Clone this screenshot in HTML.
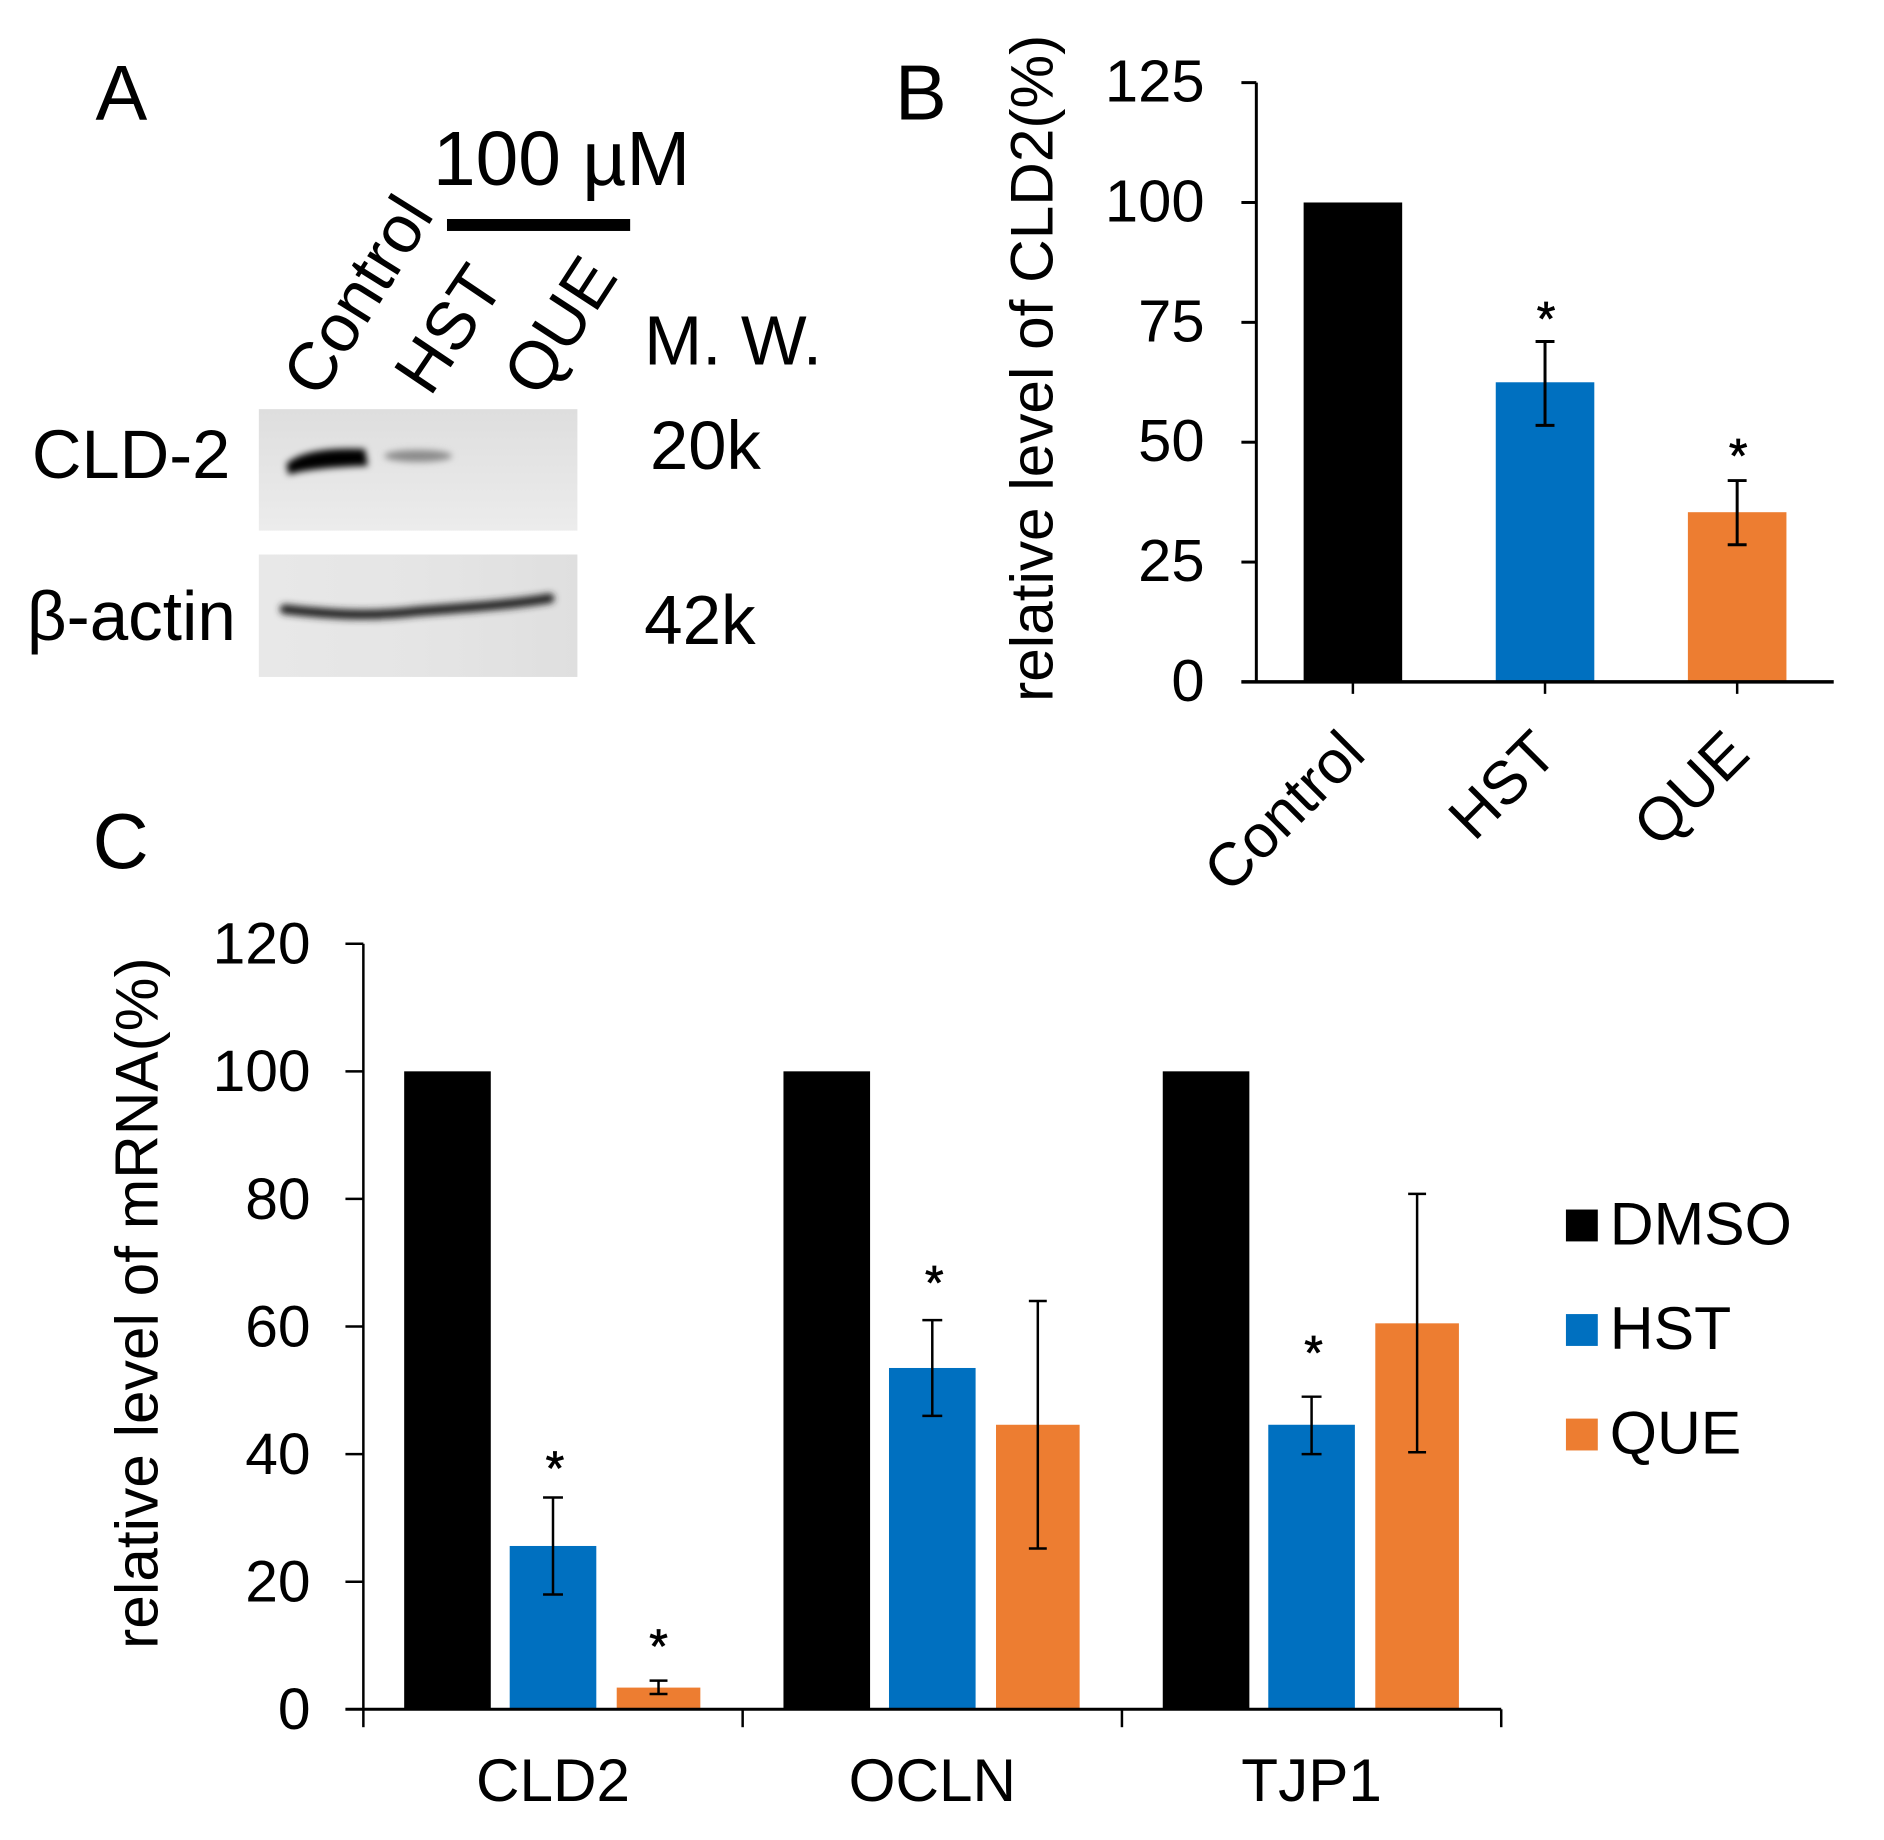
<!DOCTYPE html>
<html><head><meta charset="utf-8"><title>CLD2 figure</title>
<style>
html,body{margin:0;padding:0;background:#fff}
svg{display:block}
text{font-family:"Liberation Sans",Arial,sans-serif;fill:#000}
</style></head>
<body>
<svg id="fig" xmlns="http://www.w3.org/2000/svg" width="1884" height="1840" viewBox="0 0 1892.5 1848.3">
<defs>
<filter id="b3" x="-30%" y="-100%" width="160%" height="300%"><feGaussianBlur stdDeviation="3.5"/></filter>
<linearGradient id="blot1" x1="0" y1="0" x2="0" y2="1"><stop offset="0" stop-color="#dedede"/><stop offset="1" stop-color="#ececec"/></linearGradient>
<linearGradient id="blot2" x1="0" y1="0" x2="1" y2="0"><stop offset="0" stop-color="#e8e8e8"/><stop offset="0.5" stop-color="#e5e5e5"/><stop offset="1" stop-color="#dfdfdf"/></linearGradient>
</defs>
<rect width="1892.5" height="1848.3" fill="#fff"/>

<g>
<text x="96" y="120" font-size="78">A</text>
<text x="435" y="186" font-size="77">100 µM</text>
<rect x="449" y="220" width="184" height="12" fill="#000"/>
<text font-size="68" text-anchor="end" transform="translate(437,216) rotate(-58)">Control</text>
<text font-size="68" text-anchor="end" transform="translate(508,287) rotate(-56)">HST</text>
<text font-size="68" text-anchor="end" transform="translate(622,278) rotate(-57)">QUE</text>
<text x="647" y="366" font-size="70">M. W.</text>
<text x="32" y="480" font-size="69">CLD-2</text>
<text x="27" y="643" font-size="69.5">β-actin</text>
<text x="653" y="471" font-size="69">20k</text>
<text x="647" y="647" font-size="69.5">42k</text>
<g>
<rect x="260" y="411" width="320" height="122" fill="url(#blot1)"/>
<path d="M291 467 C305 456 330 453 364 454 L366 465 C340 466 310 468 292 473 Z" fill="#000" stroke="#000" stroke-width="6" filter="url(#b3)"/>
<ellipse cx="420" cy="458" rx="34" ry="6" fill="#8a8a8a" filter="url(#b3)"/>
</g>
<g>
<rect x="260" y="557" width="320" height="123" fill="url(#blot2)"/>
<path d="M286 612 C330 617 370 620 420 614 C470 610 510 608 552 601" fill="none" stroke="#262626" stroke-width="10" stroke-linecap="round" filter="url(#b3)"/>
</g>
</g>

<text x="899" y="120" font-size="78">B</text>
<g id="chartB"></g>

<text x="93" y="872" font-size="78">C</text>
<g id="chartC"></g>

<g>
<g><rect x="1573" y="1215" width="32" height="32" fill="#000"/><text x="1617" y="1250" font-size="61">DMSO</text></g>
<g><rect x="1573" y="1320" width="32" height="32" fill="#0070c0"/><text x="1617" y="1355" font-size="61">HST</text></g>
<g><rect x="1573" y="1425" width="32" height="32" fill="#ed7d31"/><text x="1617" y="1460" font-size="61">QUE</text></g>
</g>
</svg>
<script>
// Panel B data
var bCategories = ['Control', 'HST', 'QUE'];
var bValues = [100, 62.5, 35.4];
var bErrHigh = [null, 71, 42];
var bErrLow = [null, 53.5, 28.6];
var bStarLevel = [null, 76.6, 48];
var bTicks = [0, 25, 50, 75, 100, 125];

// Panel C data
var cCategories = ['CLD2', 'OCLN', 'TJP1'];
var cDmso = [100, 100, 100];
var cHst = [25.6, 53.5, 44.6];
var cQue = [3.4, 44.6, 60.5];
var cHstErrHigh = [33.2, 61, 49];
var cHstErrLow = [18, 46, 40];
var cQueErrHigh = [4.5, 64, 80.8];
var cQueErrLow = [2.4, 25.2, 40.3];
var cHstStar = [38.4, 67.5, 56.5];
var cQueStar = [10.5, null, null];
var cTicks = [0, 20, 40, 60, 80, 100, 120];

var NS = 'http://www.w3.org/2000/svg';
var BLACK = '#000', BLUE = '#0070c0', ORANGE = '#ed7d31';

function mk(parent, tag, attrs, txt) {
  var el = document.createElementNS(NS, tag);
  for (var k in attrs) el.setAttribute(k, attrs[k]);
  if (txt !== undefined) el.textContent = txt;
  parent.appendChild(el);
  return el;
}
function drawAxes(g, o) {
  var yAxis = mk(g, 'line', {x1: o.x0, x2: o.x0, y1: o.y(o.ticks[o.ticks.length - 1]), y2: o.y(0), stroke: '#000', 'stroke-width': o.sw});
  
  
  var xAxis = mk(g, 'line', {x1: o.x0 - o.tick, x2: o.x1, y1: o.y(0), y2: o.y(0), stroke: '#000', 'stroke-width': o.sw + 0.5});
  
  
  o.ticks.forEach(function (t) {
    var tk = mk(g, 'line', {x1: o.x0 - o.tick, x2: o.x0, y1: o.y(t), y2: o.y(t), stroke: '#000', 'stroke-width': o.sw});
    
    
    var lb = mk(g, 'text', {x: o.labelX, y: o.y(t) + o.dy, 'font-size': o.fs, 'text-anchor': 'end'}, String(t));
    
    
  });
}
function drawBar(g, name, cx, w, v, y, color) {
  var r = mk(g, 'rect', {x: cx - w / 2, y: y(v), width: w, height: y(0) - y(v), fill: color});
  
  
}
function drawErr(g, cx, hi, lo, y, cap, sw) {
  if (hi === null) return;
  var e = mk(g, 'g', {stroke: '#000', 'stroke-width': sw});
  
  
  mk(e, 'line', {x1: cx, x2: cx, y1: y(hi), y2: y(lo)});
  mk(e, 'line', {x1: cx - cap / 2, x2: cx + cap / 2, y1: y(hi), y2: y(hi)});
  mk(e, 'line', {x1: cx - cap / 2, x2: cx + cap / 2, y1: y(lo), y2: y(lo)});
}
function drawStar(g, cx, level, y) {
  if (level === null) return;
  var s = mk(g, 'text', {x: cx, y: y(level) + 21, 'font-size': 48, 'text-anchor': 'middle', stroke: '#000', 'stroke-width': 0.8}, '*');
  
  
}

/* ---------- Panel B ---------- */
(function () {
  var g = document.getElementById('chartB');
  var x0 = 1262, x1 = 1842, yTop = 83, yBase = 685, maxV = 125;
  var y = function (v) { return yBase - (v / maxV) * (yBase - yTop); };
  var step = 193;
  var cx = function (i) { return 1359 + i * step; };
  var colors = [BLACK, BLUE, ORANGE];
  bValues.forEach(function (v, i) {
    drawBar(g, 'bar-' + bCategories[i].toLowerCase(), cx(i), 99, v, y, colors[i]);
  });
  bValues.forEach(function (v, i) {
    drawErr(g, cx(i), bErrHigh[i], bErrLow[i], y, 19, 3);
    drawStar(g, cx(i) + 1, bStarLevel[i], y);
  });
  drawAxes(g, {x0: x0, x1: x1, y: y, ticks: bTicks, tick: 15, sw: 3, labelX: 1210, fs: 60, dy: 19});
  for (var i = 0; i <= bCategories.length; i++) {
    var t = mk(g, 'line', {x1: cx(i), x2: cx(i), y1: yBase, y2: yBase + 12, stroke: '#000', 'stroke-width': 2.5});
    
    
  }
  bCategories.forEach(function (c, i) {
    var lb = mk(g, 'text', {'font-size': 61, 'text-anchor': 'end', transform: 'translate(' + (cx(i) + 15) + ',' + (yBase + 75) + ') rotate(-45)'}, c);
    
    
  });
  var title = mk(g, 'text', {'font-size': 60.6, 'text-anchor': 'middle', transform: 'translate(1057,370) rotate(-90)'}, 'relative level of CLD2(%)');
  
  
})();

/* ---------- Panel C ---------- */
(function () {
  var g = document.getElementById('chartC');
  var x0 = 365, x1 = 1508, yTop = 948, yBase = 1717, maxV = 120;
  var y = function (v) { return yBase - (v / maxV) * (yBase - yTop); };
  var groupW = (x1 - x0) / cCategories.length;
  var gc = function (i) { return x0 + groupW * (i + 0.5); };
  var off = 106;
  cCategories.forEach(function (c, i) {
    var n = c.toLowerCase();
    drawBar(g, 'bar-' + n + '-dmso', gc(i) - off, 87, cDmso[i], y, BLACK);
    drawBar(g, 'bar-' + n + '-hst', gc(i), 87, cHst[i], y, BLUE);
    drawBar(g, 'bar-' + n + '-que', gc(i) + off, 84, cQue[i], y, ORANGE);
  });
  cCategories.forEach(function (c, i) {
    drawErr(g, gc(i), cHstErrHigh[i], cHstErrLow[i], y, 20, 2.5);
    drawErr(g, gc(i) + off, cQueErrHigh[i], cQueErrLow[i], y, 18, 2.5);
    drawStar(g, gc(i) + 2, cHstStar[i], y);
    drawStar(g, gc(i) + off, cQueStar[i], y);
  });
  drawAxes(g, {x0: x0, x1: x1, y: y, ticks: cTicks, tick: 18, sw: 2.5, labelX: 312, fs: 59, dy: 20});
  for (var i = 0; i <= cCategories.length; i++) {
    var t = mk(g, 'line', {x1: x0 + groupW * i, x2: x0 + groupW * i, y1: yBase, y2: yBase + 18, stroke: '#000', 'stroke-width': 2.5});
    
    
  }
  cCategories.forEach(function (c, i) {
    var lb = mk(g, 'text', {x: gc(i), y: 1809, 'font-size': 60.5, 'text-anchor': 'middle'}, c);
    
    
  });
  var title = mk(g, 'text', {'font-size': 60.7, 'text-anchor': 'middle', transform: 'translate(158,1309) rotate(-90)'}, 'relative level of mRNA(%)');
  
  
})();
</script>
</body></html>
